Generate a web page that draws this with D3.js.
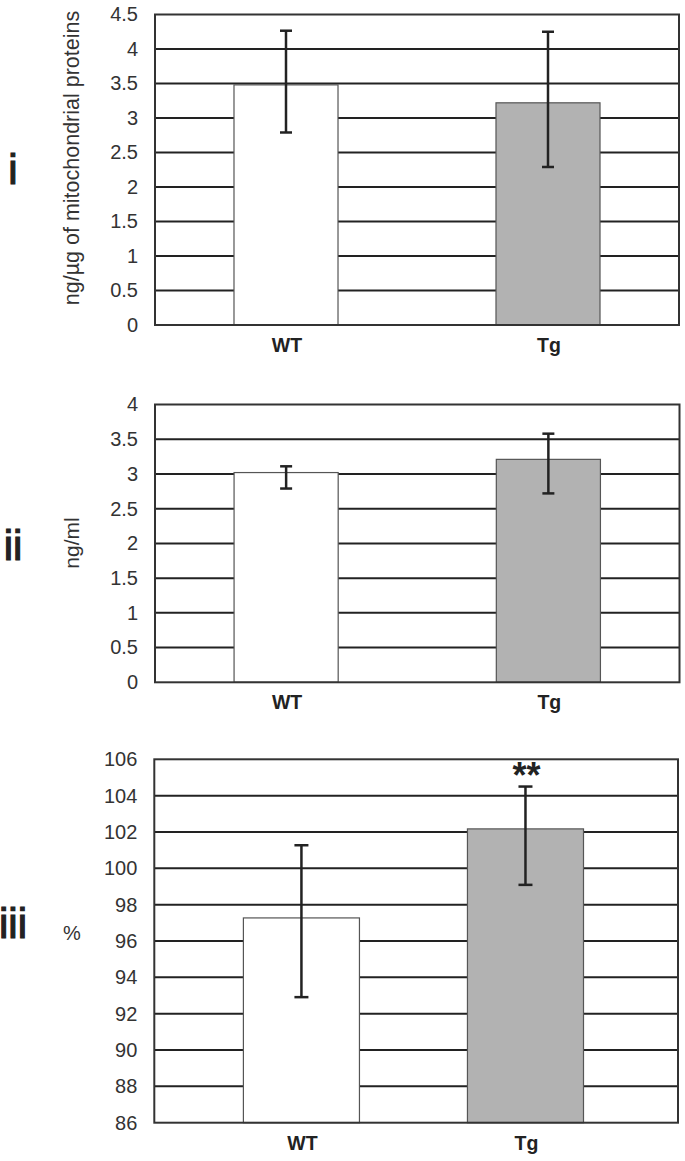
<!DOCTYPE html>
<html><head><meta charset="utf-8">
<script src="https://cdn.jsdelivr.net/npm/d3@7"></script>
<style>
html,body{margin:0;padding:0;background:#fff;}
svg{display:block;font-family:"Liberation Sans",Arial,sans-serif;}
</style></head>
<body>
<svg id="chart" width="685" height="1161"></svg>
<script>
// ---- data ----
const categories = ["WT", "Tg"];
const panelNames = ["i", "ii", "iii"];
const yTitles = ["ng/µg of mitochondrial proteins", "ng/ml", "%"];

const mitoValues = [3.48, 3.22];
const mitoLow    = [2.79, 2.29];
const mitoHigh   = [4.265, 4.25];
const mitoTicks  = [0, 0.5, 1, 1.5, 2, 2.5, 3, 3.5, 4, 4.5];

const serumValues = [3.02, 3.21];
const serumLow    = [2.79, 2.72];
const serumHigh   = [3.11, 3.58];
const serumTicks  = [0, 0.5, 1, 1.5, 2, 2.5, 3, 3.5, 4];

const pctValues = [97.27, 102.17];
const pctLow    = [92.91, 99.09];
const pctHigh   = [101.27, 104.5];
const pctTicks  = [86, 88, 90, 92, 94, 96, 98, 100, 102, 104, 106];
const pctSignif = ["", "**"];

const barFills = ["#ffffff", "#b2b2b2"];

// ---- layout ----
const panels = [
  {name: panelNames[0], title: yTitles[0], values: mitoValues, low: mitoLow, high: mitoHigh, ticks: mitoTicks,
   top: 14.5, bottom: 325, left: 155, right: 679, band: [0, 524], pin: 0.603, pout: 0.3015,
   capW: 12, labelY: 352, nameY: 169, titleRot: true, titleX: 72, titleSize: 21.5, titleMid: 158},
  {name: panelNames[1], title: yTitles[1], values: serumValues, low: serumLow, high: serumHigh, ticks: serumTicks,
   top: 404.5, bottom: 682.3, left: 155, right: 679.5, band: [0, 524.5], pin: 0.603, pout: 0.3015,
   capW: 12, labelY: 709, nameY: 545, titleRot: true, titleX: 72, titleSize: 21, titleMid: 543},
  {name: panelNames[2], title: yTitles[2], values: pctValues, low: pctLow, high: pctHigh, ticks: pctTicks, signif: pctSignif,
   top: 759.3, bottom: 1122.7, left: 154.3, right: 678, band: [89.1, 429.2], pin: 0.482, pout: 0,
   capW: 14, labelY: 1150, nameY: 923, titleRot: false, titleX: 72, titleSize: 20, titleMid: 933}
];

const svg = d3.select("#chart");
const ink = "#222";

panels.forEach(p => {
  const g = svg.append("g").attr("transform", `translate(${p.left},0)`);
  const w = p.right - p.left;
  const y = d3.scaleLinear().domain([p.ticks[0], p.ticks[p.ticks.length - 1]]).range([p.bottom, p.top]);
  const x = d3.scaleBand().domain(categories).range(p.band).paddingInner(p.pin).paddingOuter(p.pout);

  // gridlines
  g.append("g").selectAll("line").data(p.ticks.slice(1, -1)).join("line")
    .attr("x1", 0).attr("x2", w)
    .attr("y1", d => y(d)).attr("y2", d => y(d))
    .attr("stroke", ink).attr("stroke-width", 2);

  // bars
  g.append("g").selectAll("rect").data(p.values).join("rect")
    .attr("x", (d, i) => x(categories[i]))
    .attr("width", x.bandwidth())
    .attr("y", d => y(d))
    .attr("height", d => y(p.ticks[0]) - y(d))
    .attr("fill", (d, i) => barFills[i])
    .attr("stroke", "#555").attr("stroke-width", 1.2);

  // frame
  g.append("rect").attr("x", 0).attr("y", p.top).attr("width", w).attr("height", p.bottom - p.top)
    .attr("fill", "none").attr("stroke", "#333").attr("stroke-width", 2);

  // y axis labels
  const yAxis = d3.axisLeft(y).tickValues(p.ticks).tickSize(0).tickPadding(17).tickFormat(d => String(d));
  const ya = g.append("g").call(yAxis);
  ya.select(".domain").remove();
  ya.selectAll("text").attr("font-size", 20).attr("fill", "#333")
    .attr("font-family", "'Liberation Sans',Arial,sans-serif");

  // error bars
  const eb = g.append("g").attr("stroke", ink).attr("stroke-width", 2.5);
  categories.forEach((c, i) => {
    const cx = x(c) + x.bandwidth() / 2;
    eb.append("line").attr("x1", cx).attr("x2", cx).attr("y1", y(p.low[i])).attr("y2", y(p.high[i]));
    eb.append("line").attr("x1", cx - p.capW / 2).attr("x2", cx + p.capW / 2).attr("y1", y(p.low[i])).attr("y2", y(p.low[i]));
    eb.append("line").attr("x1", cx - p.capW / 2).attr("x2", cx + p.capW / 2).attr("y1", y(p.high[i])).attr("y2", y(p.high[i]));
    if (p.signif && p.signif[i]) {
      g.append("text").attr("x", cx + 1).attr("y", y(p.high[i]) + 1)
        .attr("text-anchor", "middle").attr("font-size", 36).attr("font-weight", "bold").attr("fill", ink)
        .text(p.signif[i]);
    }
  });

  // x labels
  g.append("g").selectAll("text").data(categories).join("text")
    .attr("x", d => x(d) + x.bandwidth() / 2 + 1)
    .attr("y", p.labelY)
    .attr("text-anchor", "middle").attr("font-size", 19.5).attr("font-weight", "bold").attr("fill", "#222")
    .text(d => d);

  // y title
  if (p.titleRot) {
    svg.append("text").attr("transform", `translate(${p.titleX + 7},${p.titleMid}) rotate(-90)`)
      .attr("text-anchor", "middle").attr("font-size", p.titleSize).attr("fill", "#333").text(p.title);
  } else {
    svg.append("text").attr("x", p.titleX).attr("y", p.titleMid + 7)
      .attr("text-anchor", "middle").attr("font-size", p.titleSize).attr("fill", "#333").text(p.title);
  }

  // panel name
  svg.append("text").attr("x", 13).attr("y", p.nameY + 15)
    .attr("text-anchor", "middle").attr("font-size", 42).attr("fill", "#222")
    .attr("stroke", "#222").attr("stroke-width", 1.2).text(p.name);
});
</script>
</body></html>
